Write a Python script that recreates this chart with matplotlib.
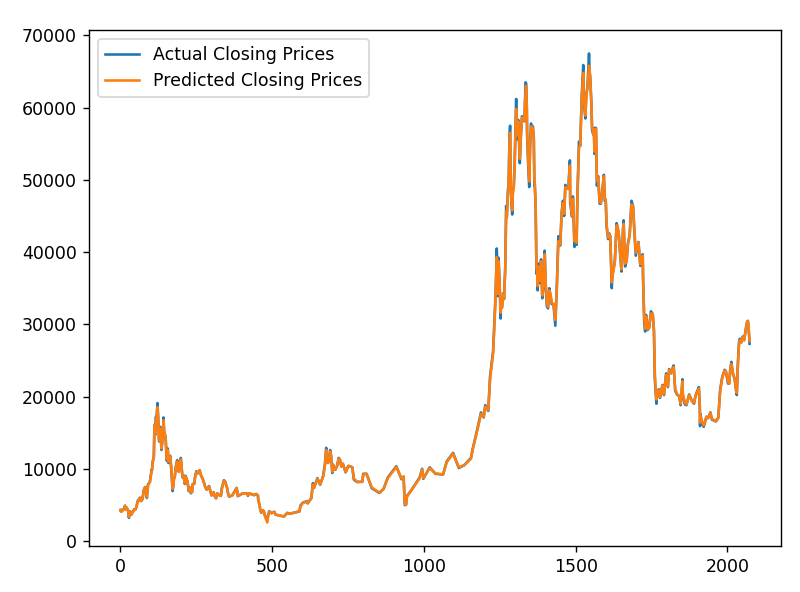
import matplotlib
matplotlib.use("Agg")
import matplotlib.pyplot as plt

day = [
    0, 1, 3, 6, 8, 11, 14, 15, 16, 18,
    21, 24, 26, 28, 29, 32, 36, 39, 43, 45,
    49, 53, 56, 59, 62, 64, 68, 72, 75, 77,
    80, 83, 85, 87, 88, 91, 94, 97, 101, 103,
    104, 106, 108, 110, 112, 113, 115, 117, 118, 120,
    122, 124, 126, 127, 129, 131, 133, 135, 137, 140,
    142, 144, 146, 149, 152, 153, 156, 158, 161, 164,
    167, 169, 172, 174, 176, 179, 182, 187, 189, 192,
    196, 199, 203, 205, 208, 212, 215, 217, 221, 225,
    229, 232, 236, 238, 243, 246, 250, 254, 261, 266,
    270, 274, 279, 284, 292, 297, 300, 307, 311, 315,
    319, 327, 331, 334, 341, 345, 351, 356, 358, 362,
    368, 374, 383, 387, 391, 399, 403, 409, 419, 420,
    424, 440, 447, 453, 454, 459, 460, 464, 465, 468,
    472, 477, 484, 487, 490, 494, 498, 507, 511, 521,
    532, 539, 550, 556, 575, 590, 593, 601, 614, 617,
    629, 634, 638, 649, 658, 668, 674, 678, 679, 684,
    686, 691, 694, 698, 700, 704, 708, 714, 719, 723,
    728, 733, 742, 751, 764, 769, 780, 797, 800, 811,
    828, 853, 867, 881, 909, 926, 933, 937, 941, 944,
    963, 986, 994, 998, 1019, 1038, 1063, 1075, 1096, 1115,
    1133, 1155, 1161, 1176, 1188, 1197, 1202, 1212, 1218, 1228,
    1234, 1235, 1238, 1240, 1242, 1243, 1244, 1246, 1249, 1253,
    1254, 1257, 1260, 1261, 1264, 1268, 1271, 1273, 1277, 1279,
    1282, 1284, 1286, 1289, 1291, 1293, 1296, 1299, 1301, 1304,
    1306, 1309, 1311, 1316, 1319, 1323, 1327, 1331, 1335, 1337,
    1339, 1340, 1344, 1347, 1350, 1353, 1355, 1359, 1362, 1364,
    1365, 1368, 1371, 1373, 1375, 1377, 1382, 1386, 1390, 1395,
    1398, 1401, 1405, 1409, 1413, 1418, 1421, 1427, 1433, 1438,
    1443, 1449, 1454, 1458, 1462, 1466, 1472, 1476, 1481, 1482,
    1488, 1491, 1496, 1499, 1503, 1506, 1511, 1515, 1520, 1525,
    1527, 1532, 1535, 1539, 1544, 1546, 1548, 1552, 1554, 1558,
    1560, 1562, 1564, 1567, 1570, 1574, 1579, 1583, 1588, 1593,
    1596, 1599, 1602, 1607, 1610, 1614, 1618, 1619, 1621, 1625,
    1629, 1632, 1635, 1638, 1642, 1646, 1651, 1652, 1656, 1658,
    1663, 1668, 1672, 1678, 1684, 1689, 1693, 1698, 1707, 1713,
    1718, 1721, 1722, 1726, 1729, 1732, 1737, 1742, 1748, 1754,
    1758, 1761, 1766, 1769, 1774, 1778, 1786, 1791, 1798, 1804,
    1808, 1814, 1819, 1823, 1828, 1835, 1841, 1846, 1852, 1853,
    1860, 1865, 1874, 1883, 1890, 1895, 1899, 1906, 1909, 1910,
    1911, 1915, 1922, 1931, 1936, 1944, 1949, 1962, 1970, 1976,
    1983, 1991, 1995, 2002, 2006, 2009, 2013, 2018, 2024, 2030,
    2031, 2034, 2038, 2041, 2046, 2050, 2055, 2062, 2065, 2068,
    2071, 2073,
]

actual = [
    4285, 4110, 4090, 4150, 4340, 4380, 4700, 4890, 4580, 4350,
    4600, 4230, 4170, 3200, 3700, 4100, 3650, 3930, 4170, 4400,
    4320, 4770, 5440, 5700, 5580, 6000, 5520, 5750, 6450, 7050,
    7400, 7460, 6600, 5950, 6560, 7850, 8000, 8200, 9300, 9900,
    9800, 10900, 11300, 11700, 16000, 16100, 14700, 17200, 16300, 17700,
    19100, 17300, 15500, 13800, 13900, 15800, 14400, 12600, 13400, 15100,
    17100, 15000, 14900, 14200, 11300, 11100, 12800, 10800, 11200, 11800,
    10200, 8900, 6900, 7600, 8600, 8900, 10200, 11200, 9900, 9600,
    10900, 11500, 9400, 8800, 9100, 7900, 9000, 8700, 8200, 6900,
    7400, 6600, 6800, 7900, 7900, 8900, 9650, 9350, 9800, 9000,
    8700, 8250, 7500, 7100, 7600, 6750, 6300, 6750, 6150, 5900,
    6600, 6300, 6250, 7300, 8400, 8200, 7400, 6300, 6150, 6200,
    6300, 6700, 7350, 6200, 6300, 6500, 6600, 6600, 6600, 6250,
    6600, 6350, 6500, 6300, 5700, 4800, 4500, 3900, 4000, 4250,
    4150, 3400, 3250, 3550, 4100, 4000, 3850, 4050, 3650, 3550,
    3450, 3400, 3900, 3750, 3950, 4100, 4900, 5300, 5500, 5200,
    5950, 8000, 7350, 8700, 7800, 8990, 10700, 12900, 11100, 10800,
    11000, 12600, 11800, 9400, 10600, 10300, 9850, 10400, 11500, 11300,
    10300, 10700, 9500, 10400, 10200, 8500, 8150, 8200, 9300, 9300,
    7300, 6650, 7200, 8800, 10350, 8550, 8900, 4970, 5000, 6200,
    7300, 8800, 10000, 8600, 10200, 9300, 9200, 11000, 12200, 10100,
    10500, 11500, 12800, 15500, 17800, 17100, 18800, 18000, 22800, 26300,
    32000, 33000, 36800, 40500, 38300, 35500, 33900, 39200, 36000, 30800,
    33000, 32300, 33400, 34300, 33500, 38000, 46400, 44800, 48700, 49200,
    55900, 57500, 48800, 46300, 45200, 48400, 49000, 52300, 55900, 61200,
    55600, 57600, 58300, 52300, 55800, 58800, 58700, 58100, 63500, 63300,
    60000, 56200, 51700, 49000, 55000, 57800, 56600, 57400, 55800, 49200,
    49700, 46400, 37000, 37500, 34700, 38400, 35700, 39000, 33600, 35800,
    40200, 35500, 32500, 32200, 35000, 33800, 32800, 32800, 29800, 35400,
    42200, 40900, 45600, 47100, 45000, 49300, 48800, 48800, 52700, 46800,
    44900, 47700, 40700, 42800, 41000, 48200, 55300, 54700, 61600, 65900,
    60700, 58500, 61800, 62900, 67500, 65000, 64100, 60300, 56900, 56300,
    57100, 53600, 57200, 57200, 49200, 50500, 46700, 46700, 48600, 50700,
    47100, 47300, 43500, 41800, 42600, 42200, 36400, 35000, 36700, 37700,
    38700, 41500, 44000, 43500, 42500, 40000, 37300, 38300, 43200, 44400,
    38000, 38800, 41100, 42400, 47100, 46400, 43200, 39500, 41400, 38100,
    38500, 39700, 36500, 30100, 29000, 31300, 29200, 29500, 31800, 31400,
    29000, 22400, 19000, 20700, 21000, 19800, 21600, 20200, 23200, 21300,
    23800, 23200, 23900, 24300, 20800, 20200, 20100, 18800, 22400, 20200,
    18900, 18800, 20300, 19400, 19000, 20100, 20600, 21300, 18500, 15900,
    17600, 16600, 15800, 17200, 17000, 17800, 16800, 16550, 17100, 20900,
    22700, 23700, 23500, 21800, 21800, 23600, 24800, 23200, 22400, 20400,
    20200, 24100, 27400, 28000, 27500, 28300, 27800, 29700, 30400, 30300,
    28800, 27300,
]

predicted = [
    4285, 4150, 4100, 4150, 4330, 4380, 4650, 4850, 4600, 4350,
    4580, 4250, 4170, 3350, 3650, 4050, 3700, 3900, 4150, 4380,
    4330, 4730, 5350, 5650, 5600, 5950, 5550, 5720, 6380, 7000,
    7350, 7420, 6650, 6050, 6500, 7750, 7950, 8150, 9200, 9800,
    9800, 10800, 11250, 11700, 15500, 16000, 14800, 16900, 16400, 17500,
    18500, 17300, 15600, 14100, 13900, 15600, 14500, 12800, 13400, 15000,
    16700, 15100, 14900, 14200, 11600, 11300, 12600, 11000, 11200, 11700,
    10300, 9000, 7200, 7600, 8500, 8900, 10100, 11000, 9900, 9600,
    10800, 11300, 9500, 8900, 9100, 8000, 8900, 8700, 8200, 7000,
    7350, 6700, 6800, 7800, 7900, 8800, 9550, 9350, 9750, 9000,
    8700, 8250, 7550, 7150, 7550, 6800, 6350, 6700, 6200, 5950,
    6550, 6300, 6250, 7200, 8300, 8200, 7400, 6350, 6200, 6200,
    6300, 6650, 7300, 6250, 6300, 6500, 6600, 6600, 6600, 6300,
    6600, 6350, 6500, 6300, 5800, 4850, 4550, 3950, 3950, 4200,
    4150, 3300, 2550, 3500, 4000, 4000, 3850, 4000, 3650, 3550,
    3450, 3400, 3850, 3750, 3950, 4100, 4800, 5250, 5450, 5250,
    5900, 7800, 7400, 8600, 7850, 8900, 10500, 12600, 11200, 10800,
    11000, 12400, 11800, 9600, 10500, 10300, 9900, 10400, 11400, 11300,
    10300, 10650, 9550, 10400, 10200, 8650, 8200, 8200, 9200, 9300,
    7400, 6700, 7200, 8700, 10250, 8650, 8900, 5150, 5000, 6100,
    7300, 8700, 9900, 8700, 10100, 9350, 9200, 10900, 12100, 10200,
    10500, 11400, 12700, 15300, 17600, 17200, 18600, 18100, 22400, 26000,
    31500, 32800, 36500, 39300, 38300, 35800, 34200, 38700, 36000, 31600,
    32800, 32300, 33300, 34200, 33600, 37600, 45600, 44800, 48300, 49000,
    55300, 56500, 49600, 46600, 45800, 48200, 48900, 52000, 55500, 59800,
    56200, 57400, 58100, 52900, 55600, 58600, 58600, 58200, 62200, 63000,
    60200, 56800, 52200, 49800, 54600, 57400, 56700, 57200, 55700, 50000,
    49600, 46800, 38000, 37300, 35300, 38000, 36000, 38700, 34000, 35800,
    39700, 35900, 33200, 32400, 34700, 33900, 33000, 32800, 30600, 35000,
    41500, 41000, 45200, 46800, 45300, 49000, 48800, 48800, 52000, 47300,
    45000, 47400, 41500, 42600, 41300, 47800, 54500, 54800, 61000, 64800,
    61200, 58900, 61500, 62800, 65800, 65200, 64000, 60600, 57400, 56400,
    56900, 53900, 57000, 57100, 49900, 50400, 47000, 46800, 48400, 50500,
    47400, 47300, 43800, 42000, 42500, 42200, 36900, 35800, 36600, 37600,
    38600, 41300, 43700, 43500, 42500, 40200, 37600, 38300, 42800, 43900,
    38400, 38800, 41000, 42300, 46600, 46400, 43400, 39900, 41300, 38300,
    38400, 39500, 36900, 30800, 29400, 31100, 29300, 29500, 31500, 31400,
    29300, 22900, 19600, 20600, 20900, 19900, 21500, 20300, 23000, 21400,
    23700, 23300, 23800, 24100, 21000, 20300, 20100, 19000, 22100, 20400,
    19200, 18900, 20200, 19400, 19100, 20100, 20500, 21100, 18700, 16400,
    17300, 16700, 16000, 17200, 17000, 17700, 16900, 16600, 17000, 20600,
    22600, 23600, 23500, 22000, 21800, 23500, 24500, 23300, 22500, 20600,
    20500, 23900, 27000, 27800, 27500, 28200, 27800, 29600, 30200, 30500,
    28800, 27700,
]

fig = plt.figure(figsize=(6.4, 4.736), dpi=125)
ax = fig.add_subplot(111)
fig.subplots_adjust(left=0.11125, right=0.97625, top=0.9493, bottom=0.0777)
ax.plot(day, actual, label="Actual Closing Prices", color="#1f77b4", linewidth=1.5)
ax.plot(day, predicted, label="Predicted Closing Prices", color="#ff7f0e", linewidth=1.5)
ax.legend(loc="upper left")
fig.savefig("out.png", dpi=125)
